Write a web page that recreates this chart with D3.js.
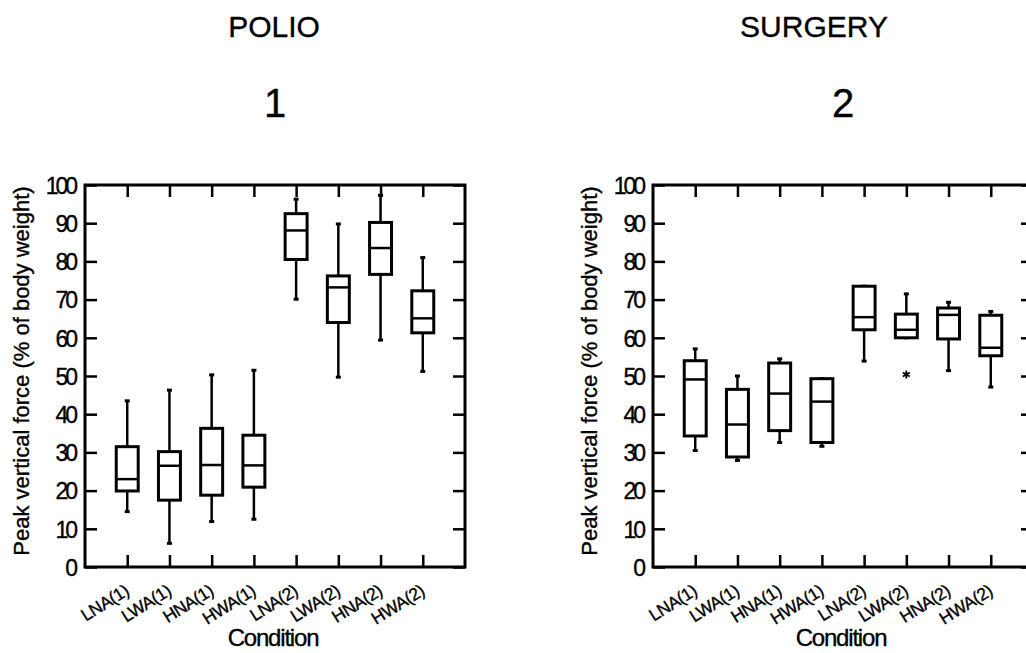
<!DOCTYPE html>
<html>
<head>
<meta charset="utf-8">
<script src="https://cdn.jsdelivr.net/npm/d3@7"></script>
<style>
  body { margin: 0; background: #fff; }
  text { font-family: "Liberation Sans", Arial, sans-serif; fill: #000; stroke: #000; stroke-width: 0.35px; }
</style>
</head>
<body>
<svg id="chart" width="1026" height="653"></svg>
<script>
const conditions = ["LNA(1)", "LWA(1)", "HNA(1)", "HWA(1)", "LNA(2)", "LWA(2)", "HNA(2)", "HWA(2)"];
const yTicks = [0, 10, 20, 30, 40, 50, 60, 70, 80, 90, 100];

// polio group
const polioLow    = [14.5, 6.2, 11.9, 12.5, 70.1, 49.7, 59.4, 51.2];
const polioQ1     = [19.9, 17.5, 18.8, 20.9, 80.5, 64.0, 76.6, 61.3];
const polioMedian = [23.0, 26.5, 26.7, 26.6, 88.1, 73.2, 83.5, 65.1];
const polioQ3     = [31.5, 30.2, 36.3, 34.5, 92.5, 76.2, 90.2, 72.3];
const polioHigh   = [43.5, 46.3, 50.3, 51.5, 96.3, 89.8, 97.3, 81.0];

// surgery group
const surgeryLow    = [30.5, 27.9, 32.6, 31.6, 53.9, 60.0, 51.4, 47.1];
const surgeryQ1     = [34.3, 28.8, 35.7, 32.6, 62.1, 60.0, 59.7, 55.3];
const surgeryMedian = [49.1, 37.3, 45.4, 43.3, 65.4, 62.1, 66.0, 57.4];
const surgeryQ3     = [54.0, 46.5, 53.4, 49.3, 73.5, 66.2, 67.8, 65.9];
const surgeryHigh   = [57.1, 50.0, 54.5, 49.3, 73.5, 71.5, 69.3, 66.9];
const surgeryOutliers = [{ cond: "LWA(2)", value: 50.4 }];

const svg = d3.select("#chart");

const panels = [
  { title: "POLIO", titleX: 274, num: "1", x0: 85, low: polioLow, q1: polioQ1, med: polioMedian, q3: polioQ3, high: polioHigh, outliers: [] },
  { title: "SURGERY", titleX: 814, num: "2", x0: 653, low: surgeryLow, q1: surgeryQ1, med: surgeryMedian, q3: surgeryQ3, high: surgeryHigh, outliers: surgeryOutliers }
];

const plotW = 380, plotTop = 185, plotBottom = 567;
const y = d3.scaleLinear().domain([0, 100]).range([plotBottom, plotTop]);
const tickLen = 12;

panels.forEach((p) => {
  const x = d3.scaleLinear().domain([0, 9]).range([p.x0, p.x0 + plotW]);
  const cx = (i) => x(i + 1);
  const g = svg.append("g");
  const mid = p.x0 + plotW / 2;

  // titles
  g.append("text").attr("x", p.titleX).attr("y", 37)
    .attr("text-anchor", "middle").attr("font-size", 30).text(p.title);
  g.append("text").attr("x", mid).attr("y", 117)
    .attr("text-anchor", "middle").attr("font-size", 40).text(p.num);

  // y axis (left), ticks inward
  const yAxis = g.append("g").attr("transform", `translate(${p.x0},0)`)
    .call(d3.axisLeft(y).tickValues(yTicks).tickSize(-tickLen).tickPadding(10));
  yAxis.select(".domain").remove();
  yAxis.selectAll("line").attr("stroke-width", 2.5);
  yAxis.selectAll("text").attr("font-size", 23).attr("letter-spacing", -3)
    .attr("dy", "0.36em")
    .style("font-family", "'Liberation Sans', Arial, sans-serif");

  // right ticks
  const yR = g.append("g").attr("transform", `translate(${p.x0 + plotW},0)`)
    .call(d3.axisRight(y).tickValues(yTicks).tickSize(-tickLen).tickFormat(""));
  yR.select(".domain").remove();
  yR.selectAll("line").attr("stroke-width", 2.5);

  // bottom and top ticks
  const xb = g.append("g").attr("transform", `translate(0,${plotBottom})`)
    .call(d3.axisBottom(x).tickValues(d3.range(1, 9)).tickSize(-tickLen).tickFormat(""));
  xb.select(".domain").remove();
  xb.selectAll("line").attr("stroke-width", 2.5);
  const xt = g.append("g").attr("transform", `translate(0,${plotTop})`)
    .call(d3.axisTop(x).tickValues(d3.range(1, 9)).tickSize(-tickLen).tickFormat(""));
  xt.select(".domain").remove();
  xt.selectAll("line").attr("stroke-width", 2.5);

  // frame
  g.append("rect").attr("x", p.x0).attr("y", plotTop).attr("width", plotW).attr("height", plotBottom - plotTop)
    .attr("fill", "none").attr("stroke", "#000").attr("stroke-width", 3);

  g.selectAll(".xlab").data(conditions).join("text")
    .attr("class", "xlab")
    .attr("transform", (d, i) => `translate(${cx(i) + 3},${plotBottom + 27}) rotate(-32)`)
    .attr("text-anchor", "end")
    .attr("font-size", 17.5).attr("letter-spacing", -0.5).text((d) => d);

  g.append("text").attr("x", mid - 2).attr("y", 646).attr("text-anchor", "middle")
    .attr("font-size", 24).attr("letter-spacing", -1.2).text("Condition");

  g.append("text")
    .attr("transform", `translate(${p.x0 - 56},${(plotTop + plotBottom) / 2 - 5}) rotate(-90)`)
    .attr("text-anchor", "middle").attr("font-size", 22)
    .text("Peak vertical force (% of body weight)");

  // boxes
  const bw = x(0.52) - x(0);
  const box = g.selectAll(".box").data(conditions).join("g").attr("class", "box");
  box.append("line").attr("x1", (d, i) => cx(i)).attr("x2", (d, i) => cx(i))
    .attr("y1", (d, i) => y(p.high[i])).attr("y2", (d, i) => y(p.q3[i]))
    .attr("stroke", "#000").attr("stroke-width", 2.5);
  box.append("line").attr("x1", (d, i) => cx(i)).attr("x2", (d, i) => cx(i))
    .attr("y1", (d, i) => y(p.q1[i])).attr("y2", (d, i) => y(p.low[i]))
    .attr("stroke", "#000").attr("stroke-width", 2.5);
  box.append("line").attr("x1", (d, i) => cx(i) - 2.5).attr("x2", (d, i) => cx(i) + 2.5)
    .attr("y1", (d, i) => y(p.high[i])).attr("y2", (d, i) => y(p.high[i]))
    .attr("stroke", "#000").attr("stroke-width", 3);
  box.append("line").attr("x1", (d, i) => cx(i) - 2.5).attr("x2", (d, i) => cx(i) + 2.5)
    .attr("y1", (d, i) => y(p.low[i])).attr("y2", (d, i) => y(p.low[i]))
    .attr("stroke", "#000").attr("stroke-width", 3);
  box.append("rect")
    .attr("x", (d, i) => cx(i) - bw / 2).attr("width", bw)
    .attr("y", (d, i) => y(p.q3[i])).attr("height", (d, i) => y(p.q1[i]) - y(p.q3[i]))
    .attr("fill", "#fff").attr("stroke", "#000").attr("stroke-width", 3);
  box.append("line").attr("x1", (d, i) => cx(i) - bw / 2).attr("x2", (d, i) => cx(i) + bw / 2)
    .attr("y1", (d, i) => y(p.med[i])).attr("y2", (d, i) => y(p.med[i]))
    .attr("stroke", "#000").attr("stroke-width", 2.5);

  g.selectAll(".outlier").data(p.outliers).join("path")
    .attr("class", "outlier")
    .attr("transform", (d) => `translate(${cx(conditions.indexOf(d.cond))},${y(d.value)})`)
    .attr("d", d3.symbol(d3.symbolAsterisk, 45))
    .attr("fill", "none").attr("stroke", "#000").attr("stroke-width", 1.8);
});
</script>
</body>
</html>
